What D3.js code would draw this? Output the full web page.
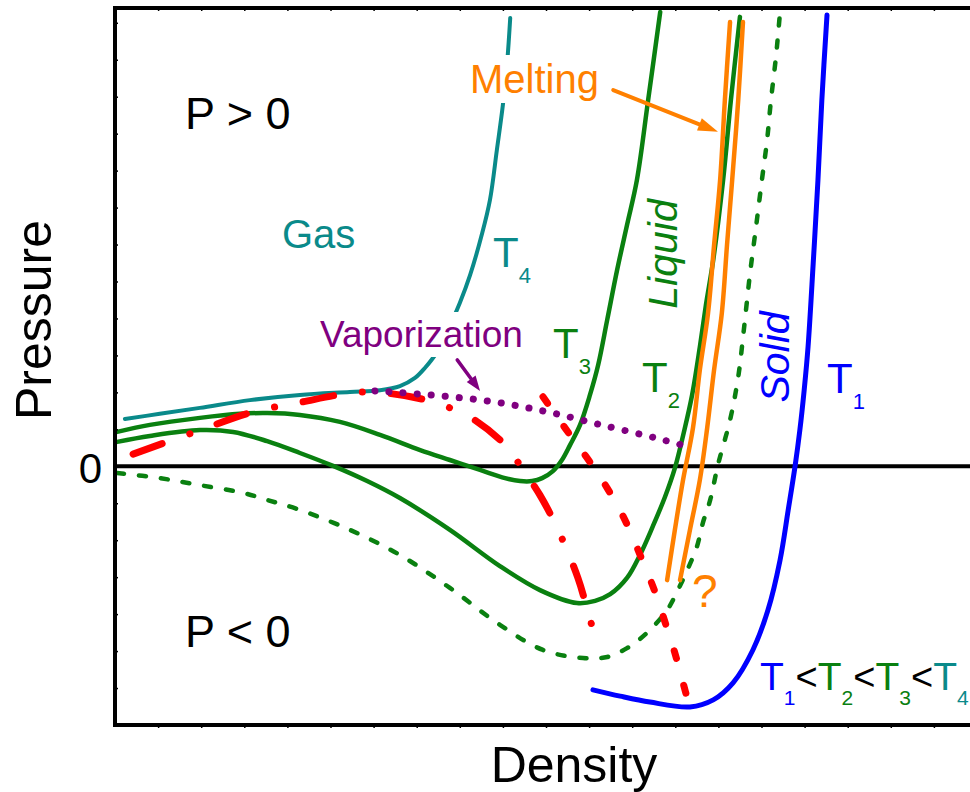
<!DOCTYPE html>
<html>
<head>
<meta charset="utf-8">
<script src="https://cdn.jsdelivr.net/npm/d3@7"></script>
<style>
  body { margin: 0; background: #fff; }
  svg { display: block; }
  text { font-family: "Liberation Sans", Arial, Helvetica, sans-serif; }
</style>
</head>
<body>
<svg id="chart" width="970" height="792"></svg>
<script>
// ---- Isotherms (density, pressure) in arbitrary units ----
const t4Density  = [0.23, 1.04, 1.97, 3.13, 4.29, 5.45, 6.15, 6.61, 6.96, 7.19, 7.47, 7.70, 8.00, 8.24, 8.52, 8.70, 8.86, 9.00, 9.10, 9.17];
const t4Pressure = [1.28, 1.42, 1.58, 1.79, 1.93, 2.01, 2.06, 2.17, 2.39, 2.66, 3.09, 3.63, 4.42, 5.18, 6.31, 7.21, 8.56, 9.78, 10.94, 12.13];

const t3Density  = [0.05, 0.81, 1.97, 2.90, 3.53, 4.29, 5.22, 6.15, 7.08, 7.77, 8.47, 9.05, 9.40, 9.68, 9.91, 10.16, 10.37, 10.56, 10.79, 11.02, 11.21, 11.42, 11.65, 11.88, 12.11, 12.37, 12.65];
const t3Pressure = [0.93, 1.12, 1.31, 1.42, 1.44, 1.39, 1.20, 0.85, 0.44, 0.17, -0.10, -0.32, -0.40, -0.40, -0.32, -0.13, 0.17, 0.58, 1.12, 1.93, 2.74, 3.96, 5.31, 6.53, 7.75, 9.91, 12.29];

const t2Density  = [0.05, 0.81, 1.97, 2.74, 3.53, 4.29, 5.06, 5.85, 6.61, 7.77, 8.93, 9.86, 10.72, 11.14, 11.49, 11.88, 12.18, 12.48, 12.76, 12.99, 13.20, 13.39, 13.57, 13.71, 13.88, 14.11, 14.29, 14.50];
const t2Pressure = [0.66, 0.82, 0.98, 0.93, 0.68, 0.36, 0.01, -0.40, -0.86, -1.72, -2.70, -3.35, -3.70, -3.64, -3.46, -3.02, -2.40, -1.62, -0.83, -0.05, 0.93, 1.93, 3.23, 4.36, 5.58, 7.75, 9.91, 12.16];

// metastable (stretched) branch, dashed
const t2mDensity  = [0.05, 1.04, 1.97, 2.97, 3.53, 4.29, 5.45, 6.61, 7.77, 8.93, 9.93, 10.86, 11.42, 11.88, 12.34, 12.81, 13.06, 13.30, 13.50, 13.64, 13.81, 13.99, 14.27, 14.46, 14.59, 14.73, 14.87, 15.01, 15.13, 15.22, 15.34, 15.43];
const t2mPressure = [-0.18, -0.32, -0.51, -0.72, -0.91, -1.18, -1.72, -2.40, -3.29, -4.29, -4.97, -5.19, -5.16, -4.92, -4.51, -3.89, -3.35, -2.75, -2.18, -1.53, -0.91, 0.04, 1.25, 2.42, 3.69, 5.18, 6.45, 7.75, 8.83, 9.91, 11.13, 12.29];

const t1Density  = [11.09, 11.72, 12.41, 13.34, 13.88, 14.34, 14.80, 15.15, 15.43, 15.62, 15.78, 15.89, 15.99, 16.08, 16.20, 16.31, 16.40, 16.52];
const t1Pressure = [-6.05, -6.22, -6.38, -6.51, -6.32, -5.86, -4.97, -3.89, -2.54, -1.18, 0.01, 0.98, 2.06, 3.23, 5.50, 7.75, 9.91, 12.21];

// melting lines
const meltPressure     = [-3.08, -1.72, -0.37, 1.04, 2.61, 4.15, 5.99, 7.75, 9.91, 12.02];
const meltLeftDensity  = [12.81, 12.99, 13.18, 13.41, 13.57, 13.76, 13.90, 14.04, 14.15, 14.27];
const meltRightDensity = [13.11, 13.34, 13.57, 13.74, 13.90, 14.08, 14.20, 14.32, 14.46, 14.57];

// spinodal (dash-dot) and binodal-like (dashed) boundaries
const spinDensity  = [0.42, 1.86, 3.20, 4.34, 5.17, 5.80, 6.31, 7.12, 7.66, 8.24, 9.05, 9.47, 9.86, 10.28, 10.74, 10.98, 11.14];
const spinPressure = [0.33, 0.93, 1.47, 1.74, 1.93, 2.01, 1.98, 1.82, 1.63, 1.33, 0.58, -0.10, -0.78, -1.72, -3.02, -3.97, -4.62];

const dashDensity  = [9.93, 10.44, 10.95, 11.42, 11.83, 12.25, 12.53, 12.76, 12.99, 13.18, 13.32];
const dashPressure = [1.88, 1.04, 0.23, -0.59, -1.45, -2.59, -3.40, -4.21, -5.05, -5.86, -6.46];

// vaporization line
const vapDensity  = [6.03, 7.31, 8.63, 9.93, 11.21, 12.53, 13.23];
const vapPressure = [2.04, 1.93, 1.77, 1.50, 1.14, 0.77, 0.55];

// annotation arrows [from, to] as (density, pressure)
const vapArrow  = [[7.94, 2.88], [8.47, 2.04]];
const meltArrow = [[11.56, 10.18], [13.99, 9.05]];

const xTicks = d3.range(1, 20);
const yTicks = d3.range(-6, 13);

// ---- Layout ----
const svg = d3.select("#chart");
const x = d3.scaleLinear().domain([0, 20]).range([115, 977]);
const y = d3.scaleLinear().domain([-7, 12.4]).range([725, 8]);

const TEAL = "#0a8a8a", GREEN = "#0a8010", BLUE = "#0000ff",
      ORANGE = "#ff8000", RED = "#ff0000", PURPLE = "#800080";

svg.append("clipPath").attr("id", "plot")
  .append("rect").attr("x", x(0)).attr("y", y(12.4))
  .attr("width", x(20) - x(0)).attr("height", y(-7) - y(12.4));

const plot = svg.append("g").attr("clip-path", "url(#plot)");

const line = d3.line()
  .x(d => x(d[0])).y(d => y(d[1]))
  .curve(d3.curveCatmullRom.alpha(0.5));

function curve(xs, ys, color, width, dash) {
  const pts = xs.map((v, i) => [v, ys[i]]);
  const p = plot.append("path")
    .attr("d", line(pts))
    .attr("fill", "none")
    .attr("stroke", color)
    .attr("stroke-width", width)
    .attr("stroke-linecap", "round")
    .attr("stroke-linejoin", "round");
  if (dash) p.attr("stroke-dasharray", dash);
  return p;
}

// zero-pressure line
plot.append("line")
  .attr("x1", x(0)).attr("x2", x(20))
  .attr("y1", y(0)).attr("y2", y(0))
  .attr("stroke", "#000").attr("stroke-width", 4);

curve(t2mDensity, t2mPressure, GREEN, 4.5, "7,15");
curve(t2Density, t2Pressure, GREEN, 4.5);
curve(t3Density, t3Pressure, GREEN, 4.5);
curve(t1Density, t1Pressure, BLUE, 5);
curve(meltLeftDensity, meltPressure, ORANGE, 4.5);
curve(meltRightDensity, meltPressure, ORANGE, 4.5);
curve(t4Density, t4Pressure, TEAL, 4);
curve(spinDensity, spinPressure, RED, 7, "31,29,0.1,29");
curve(dashDensity, dashPressure, RED, 7, "8,28");
curve(vapDensity, vapPressure, PURPLE, 7, "0.1,14");

// arrows
function arrow(a, color, width, headLen, headW) {
  const x1 = x(a[0][0]), y1 = y(a[0][1]), x2 = x(a[1][0]), y2 = y(a[1][1]);
  const ang = Math.atan2(y2 - y1, x2 - x1);
  const bx = x2 - headLen * Math.cos(ang), by = y2 - headLen * Math.sin(ang);
  plot.append("line")
    .attr("x1", x1).attr("y1", y1).attr("x2", bx + 2 * Math.cos(ang)).attr("y2", by + 2 * Math.sin(ang))
    .attr("stroke", color).attr("stroke-width", width).attr("stroke-linecap", "round");
  const nx = -Math.sin(ang) * headW / 2, ny = Math.cos(ang) * headW / 2;
  plot.append("path")
    .attr("d", `M${x2},${y2}L${bx + nx},${by + ny}L${bx - nx},${by - ny}Z`)
    .attr("fill", color);
}

// ---- Frame and ticks ----
svg.append("g").attr("transform", `translate(0,${y(-7)})`)
  .call(d3.axisBottom(x).tickValues(xTicks).tickSize(3).tickFormat(""))
  .call(g => g.select(".domain").remove());
svg.append("g").attr("transform", `translate(0,${y(12.4)})`)
  .call(d3.axisBottom(x).tickValues(xTicks).tickSize(3).tickFormat(""))
  .call(g => g.select(".domain").remove());
svg.append("g").attr("transform", `translate(${x(0)},0)`)
  .call(d3.axisRight(y).tickValues(yTicks).tickSize(3).tickFormat(""))
  .call(g => g.select(".domain").remove());
svg.selectAll(".tick line").attr("stroke", "#000").attr("stroke-width", 1.5);

svg.append("rect")
  .attr("x", x(0)).attr("y", y(12.4))
  .attr("width", x(20) - x(0)).attr("height", y(-7) - y(12.4))
  .attr("fill", "none").attr("stroke", "#000").attr("stroke-width", 4);

// ---- Text ----
function txt(px, py, s, color, size, opts = {}) {
  const t = svg.append("text")
    .attr("x", px).attr("y", py)
    .attr("fill", color)
    .attr("font-size", size)
    .text(s);
  if (opts.anchor) t.attr("text-anchor", opts.anchor);
  if (opts.italic) t.attr("font-style", "italic");
  if (opts.rotate) t.attr("transform", `rotate(${opts.rotate},${px},${py})`);
  if (opts.bg) {
    const b = t.node().getBBox();
    svg.insert("rect", () => t.node())
      .attr("x", b.x - 3).attr("y", b.y - 2)
      .attr("width", b.width + 6).attr("height", b.height + 4)
      .attr("fill", "#fff");
  }
  return t;
}

function tLabel(px, py, sub, color) {
  const t = svg.append("text").attr("x", px).attr("y", py).attr("fill", color);
  t.append("tspan").attr("font-size", 42).text("T");
  t.append("tspan").attr("font-size", 22).attr("dy", 16).text(sub);
}

txt(185, 129, "P > 0", "#000", 45);
txt(185, 647, "P < 0", "#000", 45);
txt(282, 248, "Gas", TEAL, 40);
tLabel(493, 267, "4", TEAL);
tLabel(553, 358, "3", GREEN);
tLabel(642, 392, "2", GREEN);
tLabel(827, 393, "1", BLUE);

txt(320, 347, "Vaporization", PURPLE, 37, { bg: true });
arrow(vapArrow, PURPLE, 3.5, 15, 11);

txt(470, 93, "Melting", ORANGE, 40, { bg: true });
arrow(meltArrow, ORANGE, 4, 20, 13);

txt(692, 607, "?", ORANGE, 46);
txt(677, 254, "Liquid", GREEN, 41, { rotate: -90, anchor: "middle", italic: true });
txt(789, 357, "Solid", BLUE, 41, { rotate: -90, anchor: "middle", italic: true });

// temperature ordering
const leg = svg.append("text").attr("x", 760).attr("y", 690);
[["1", BLUE], ["2", GREEN], ["3", GREEN], ["4", TEAL]].forEach((d, i) => {
  if (i > 0) leg.append("tspan").attr("font-size", 38).attr("fill", "#000").attr("dy", -15).text("<");
  leg.append("tspan").attr("font-size", 39).attr("fill", d[1]).text("T");
  leg.append("tspan").attr("font-size", 21).attr("fill", d[1]).attr("dy", 15).text(d[0]);
});

// axis titles
txt(102, 483, "0", "#000", 42, { anchor: "end" });
txt(574, 782, "Density", "#000", 50, { anchor: "middle" });
txt(51, 320, "Pressure", "#000", 50, { anchor: "middle", rotate: -90 });
</script>
</body>
</html>
